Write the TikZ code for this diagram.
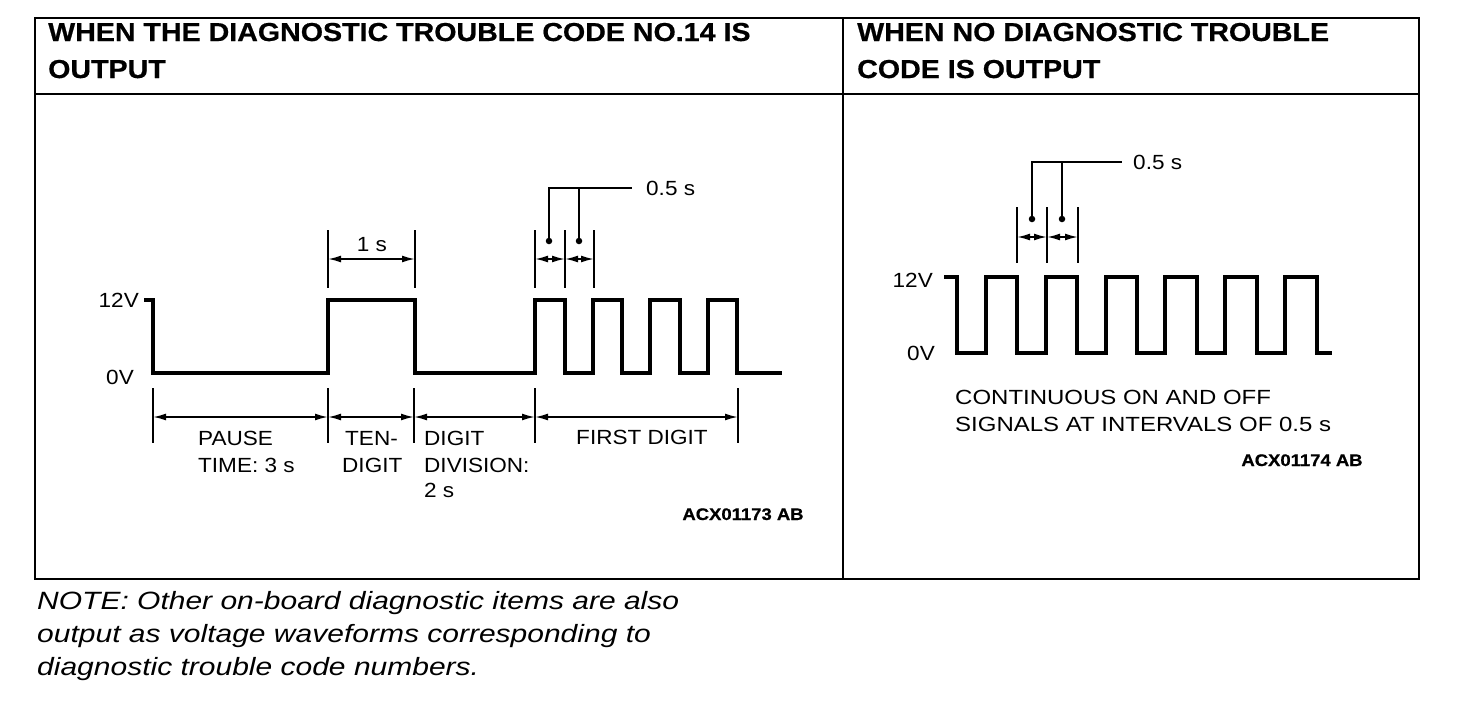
\documentclass[tikz,border=0pt]{standalone}
\usepackage{fontspec}
\setmainfont{Liberation Sans}
\newfontfamily\headfont{Liberation Sans}[FakeStretch=1.1,BoldFeatures={FakeBold=0.6}]
\newfontfamily\bodyfont{Liberation Sans}[FakeStretch=1.1]
\newfontfamily\wideb{Liberation Sans}[FakeStretch=1.17]
\newfontfamily\notefont{Liberation Sans}[FakeStretch=1.2]
\usetikzlibrary{arrows.meta}
\begin{document}
\begin{tikzpicture}[x=1pt,y=-1pt,
  frame/.style={line width=2.6pt},
  wave/.style={line width=3.8pt,line join=miter,line cap=butt},
  extline/.style={line width=1.8pt},
  dimline/.style={line width=1.8pt,{Latex[length=13pt,width=7pt]}-{Latex[length=13pt,width=7pt]}},
  leader/.style={line width=1.8pt},
  dotmark/.style={circle,fill=black,inner sep=0pt,minimum size=6.5pt},
  head/.style={inner sep=0pt,anchor=base west,font=\fontsize{26}{30}\headfont\bfseries},
  lbl/.style={inner sep=0pt,font=\fontsize{20.5}{24}\bodyfont},
  rlbl/.style={inner sep=0pt,font=\fontsize{20.5}{24}\wideb},
  code/.style={inner sep=0pt,anchor=base,font=\fontsize{16.8}{20}\headfont\bfseries},
  notetxt/.style={inner sep=0pt,anchor=base west,font=\fontsize{25}{28}\notefont\itshape}]
\useasboundingbox (0,0) rectangle (1472,702);
\fill[white] (0,0) rectangle (1472,702);

% frame
\coordinate (tl) at (35,18);
\coordinate (br) at (1419,579);
\draw[frame] (tl) rectangle (br);
\coordinate (hl) at (35,94);
\coordinate (hr) at (1419,94);
\draw[frame] (hl) -- (hr);
\coordinate (dt) at (843,18);
\coordinate (db) at (843,579);
\draw[frame] (dt) -- (db);

% headers
\node[head] (h1a) at (48,41) {WHEN THE DIAGNOSTIC TROUBLE CODE NO.14 IS};
\node[head] (h1b) at (48,78) {OUTPUT};
\node[head] (h2a) at (857,41) {WHEN NO DIAGNOSTIC TROUBLE};
\node[head] (h2b) at (857,78) {CODE IS OUTPUT};

% ---------- left waveform ----------
\node[lbl,anchor=base east] (l12) at (139,307) {12V};
\node[lbl,anchor=base east] (l0) at (134,384) {0V};
\draw[wave] (144,300) -- (153,300) -- (153,373) -- (328,373) -- (328,300) -- (415,300) -- (415,373)
  -- (535,373) -- (535,300) -- (565,300) -- (565,373) -- (593,373) -- (593,300) -- (622,300)
  -- (622,373) -- (650,373) -- (650,300) -- (680,300) -- (680,373) -- (708,373) -- (708,300)
  -- (737,300) -- (737,373) -- (782,373);

% top dimensions (1 s)
\foreach \n/\x in {a/328,b/415,c/535,d/565,e/594}{
  \coordinate (t\n1) at (\x,230);
  \coordinate (t\n2) at (\x,288);
  \coordinate (t\n) at (\x,259);
  \draw[extline] (t\n1) -- (t\n2);
}
\draw[dimline] (ta) -- (tb);
\node[lbl,anchor=base] (one) at (372,251) {1 s};
\draw[dimline] (tc) -- (td);
\draw[dimline] (td) -- (te);
\node[dotmark] (dl1) at (549,241) {};
\node[dotmark] (dl2) at (579,241) {};
\coordinate (kl1) at (549,188);
\coordinate (kl2) at (579,188);
\coordinate (kl3) at (632,188);
\draw[leader] (dl1.center) -- (kl1) -- (kl3);
\draw[leader] (dl2.center) -- (kl2);
\node[lbl,anchor=base west] (hl05) at (646,195) {0.5 s};

% bottom dimensions
\foreach \n/\x in {a/153,b/328,c/414,d/535,e/738}{
  \coordinate (b\n1) at (\x,388);
  \coordinate (b\n2) at (\x,443);
  \coordinate (b\n) at (\x,417);
  \draw[extline] (b\n1) -- (b\n2);
}
\draw[dimline] (ba) -- (bb);
\draw[dimline] (bb) -- (bc);
\draw[dimline] (bc) -- (bd);
\draw[dimline] (bd) -- (be);
\node[lbl,anchor=base west] (p1) at (198,445) {PAUSE};
\node[lbl,anchor=base west] (p2) at (198,472) {TIME: 3 s};
\node[lbl,anchor=base west] (t1) at (345,445) {TEN-};
\node[lbl,anchor=base west] (t2) at (342,472) {DIGIT};
\node[lbl,anchor=base west] (d1) at (424,445) {DIGIT};
\node[lbl,anchor=base west] (d2) at (424,472) {DIVISION:};
\node[lbl,anchor=base west] (d3) at (424,497) {2 s};
\node[lbl,anchor=base] (fd) at (642,444) {FIRST DIGIT};
\node[code] (c1) at (743,520) {ACX01173 AB};

% ---------- right waveform ----------
\node[lbl,anchor=base east] (r12) at (933,287) {12V};
\node[lbl,anchor=base east] (r0) at (935,360) {0V};
\draw[wave] (944,277) -- (957,277) -- (957,353) -- (986,353) -- (986,277) -- (1017,277) -- (1017,353)
  -- (1046,353) -- (1046,277) -- (1077,277) -- (1077,353) -- (1106,353) -- (1106,277) -- (1137,277)
  -- (1137,353) -- (1165,353) -- (1165,277) -- (1197,277) -- (1197,353) -- (1225,353) -- (1225,277)
  -- (1257,277) -- (1257,353) -- (1285,353) -- (1285,277) -- (1317,277) -- (1317,353) -- (1332,353);
\foreach \n/\x in {a/1017,b/1047,c/1078}{
  \coordinate (r\n1) at (\x,207);
  \coordinate (r\n2) at (\x,263);
  \coordinate (r\n) at (\x,237);
  \draw[extline] (r\n1) -- (r\n2);
}
\draw[dimline] (ra) -- (rb);
\draw[dimline] (rb) -- (rc);
\node[dotmark] (dr1) at (1032,219) {};
\node[dotmark] (dr2) at (1062,219) {};
\coordinate (kr1) at (1032,162);
\coordinate (kr2) at (1062,162);
\coordinate (kr3) at (1122,162);
\draw[leader] (dr1.center) -- (kr1) -- (kr3);
\draw[leader] (dr2.center) -- (kr2);
\node[lbl,anchor=base west] (hr05) at (1133,169) {0.5 s};
\node[rlbl,anchor=base west] (ct1) at (955,404) {CONTINUOUS ON AND OFF};
\node[rlbl,anchor=base west] (ct2) at (955,431) {SIGNALS AT INTERVALS OF 0.5 s};
\node[code] (c2) at (1302,466) {ACX01174 AB};

% note
\node[notetxt] (n1) at (37,609) {NOTE: Other on-board diagnostic items are also};
\node[notetxt] (n2) at (37,642) {output as voltage waveforms corresponding to};
\node[notetxt] (n3) at (37,675) {diagnostic trouble code numbers.};
\end{tikzpicture}
\end{document}
